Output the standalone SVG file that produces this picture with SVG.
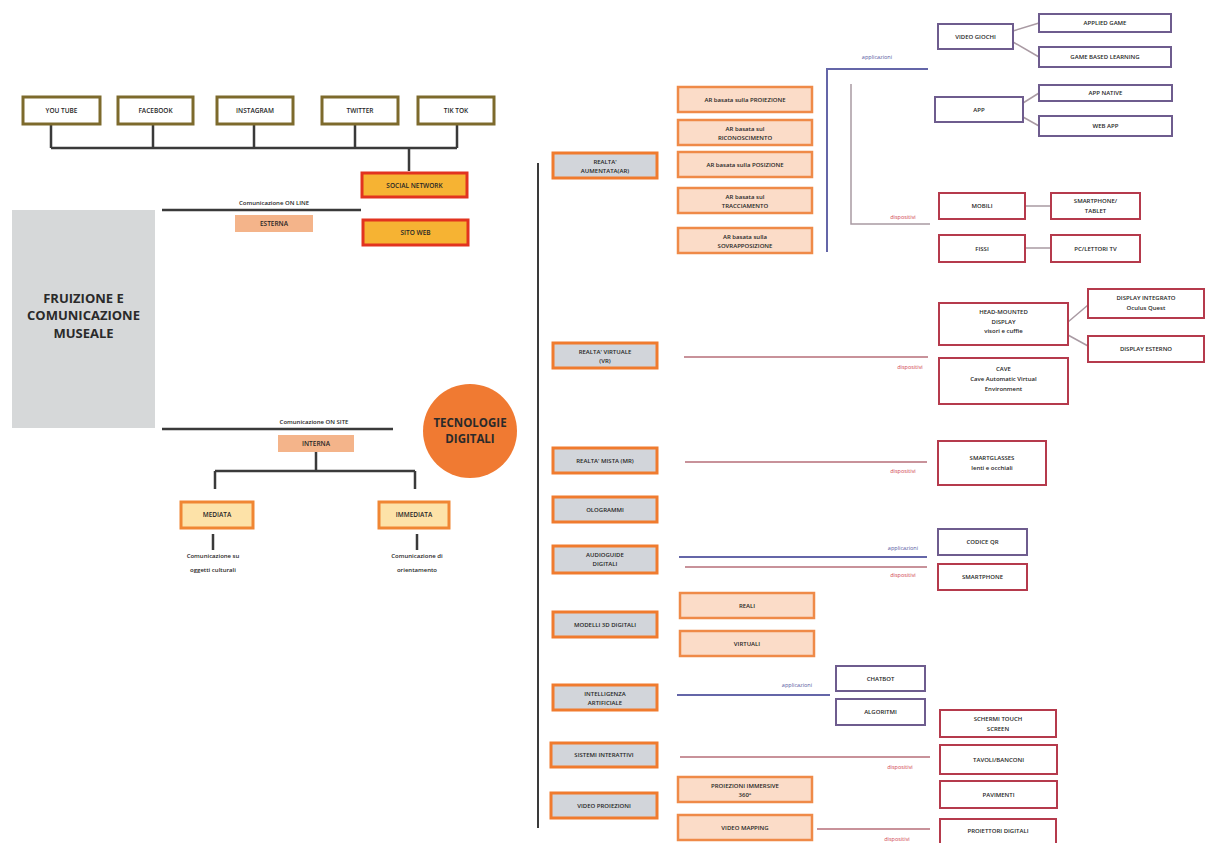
<svg xmlns="http://www.w3.org/2000/svg" width="1208" height="843" viewBox="0 0 1208 843">
<style>
text{font-family:"Open Sans","Liberation Sans",sans-serif;fill:#262626;text-anchor:middle}
.t{font-size:6.5px;font-weight:600}
.s{font-size:6px;font-weight:600}
.title{font-size:13px;font-weight:bold;fill:#2a2a2a}
.soc{fill:#fff;stroke:#7d6a2c;stroke-width:3}
.sn{fill:#f6b333;stroke:#e2331f;stroke-width:3}
.sal{fill:#f4b48a;stroke:none}
.med{fill:#fde2a8;stroke:#f08633;stroke-width:3}
.cat{fill:#d2d5da;stroke:#f07b2e;stroke-width:3}
.sub{fill:#fbdcc8;stroke:#ef8a48;stroke-width:2.5}
.pur{fill:#fff;stroke:#6e5c8e;stroke-width:2}
.red{fill:#fff;stroke:#b53a4c;stroke-width:2}
.blk{stroke:#3a3a3a;stroke-width:2.5;fill:none}
.bl{stroke:#6466a8;stroke-width:2;fill:none}
.rl{stroke:#c8929a;stroke-width:2;fill:none}
.gl{stroke:#a99aa3;stroke-width:1.5;fill:none}
.lb{font-size:5.5px;fill:#5558a0}
.lr{font-size:5.5px;fill:#d0404e}
</style>

<g id="connectors">
  <path class="blk" d="M51 124V148M153 124V148M254 124V148M355 124V148M457 124V148M51 148H457M409 148V171"/>
  <path class="blk" d="M162 210H361"/>
  <path class="blk" d="M162 429H393"/>
  <path class="blk" d="M316 452V471M215 471H415M215 471V489M415 471V489"/>
  <path class="blk" d="M213 534V550M417 534V550"/>
  <path d="M538 163V828" stroke="#3a3a3a" stroke-width="2" fill="none"/>
  <path class="bl" d="M928 69H827V252"/>
  <path class="gl" d="M851 84V224H930"/>
  <path class="gl" d="M1013 31L1039 23M1013 42L1039 57M1023 103L1039 93M1023 117L1039 126"/>
  <path class="gl" d="M1025 206H1051M1025 248H1051"/>
  <path class="rl" d="M684 357H928"/>
  <path class="gl" d="M1068 322L1088 305M1068 335L1088 346"/>
  <path class="rl" d="M685 462H927"/>
  <path class="bl" d="M679 557H927"/>
  <path class="rl" d="M685 567H927"/>
  <path class="bl" d="M677 695H830"/>
  <path class="rl" d="M680 757H930"/>
  <path class="rl" d="M817 829H930"/>
</g>

<g id="labels">
  <text class="lb" x="877" y="59">applicazioni</text>
  <text class="lr" x="903" y="219">dispositivi</text>
  <text class="lr" x="910" y="369">dispositivi</text>
  <text class="lr" x="903" y="473">dispositivi</text>
  <text class="lb" x="903" y="550">applicazioni</text>
  <text class="lr" x="903" y="577">dispositivi</text>
  <text class="lb" x="797" y="687">applicazioni</text>
  <text class="lr" x="900" y="769">dispositivi</text>
  <text class="lr" x="897" y="841">dispositivi</text>
  <text class="s" x="274" y="205">Comunicazione   ON LINE</text>
  <text class="s" x="314" y="424">Comunicazione   ON SITE</text>
</g>

<g id="youtube"><rect class="soc" x="23" y="97" width="77" height="27"/><text class="t" x="61.5" y="113">YOU TUBE</text></g>
<g id="facebook"><rect class="soc" x="118" y="97" width="75" height="27"/><text class="t" x="155.5" y="113">FACEBOOK</text></g>
<g id="instagram"><rect class="soc" x="217" y="97" width="76" height="27"/><text class="t" x="255" y="113">INSTAGRAM</text></g>
<g id="twitter"><rect class="soc" x="322" y="97" width="76" height="27"/><text class="t" x="360" y="113">TWITTER</text></g>
<g id="tiktok"><rect class="soc" x="418" y="97" width="76" height="27"/><text class="t" x="456" y="113">TIK TOK</text></g>

<g id="socialnetwork"><rect class="sn" x="362" y="173" width="105" height="24"/><text class="t" x="414.5" y="187.5">SOCIAL NETWORK</text></g>
<g id="sitoweb"><rect class="sn" x="363" y="220" width="105" height="25"/><text class="t" x="415.5" y="235">SITO WEB</text></g>
<g id="esterna"><rect class="sal" x="235" y="215" width="78" height="17"/><text class="t" x="274" y="226">ESTERNA</text></g>

<g id="fruizione">
  <rect x="12" y="210" width="143" height="218" fill="#d6d8d9"/>
  <text class="title" x="83.5" y="303">FRUIZIONE E</text>
  <text class="title" x="83.5" y="320">COMUNICAZIONE</text>
  <text class="title" x="83.5" y="338">MUSEALE</text>
</g>

<g id="interna"><rect class="sal" x="278" y="435" width="76" height="17"/><text class="t" x="316" y="446">INTERNA</text></g>
<g id="mediata"><rect class="med" x="181" y="502" width="72" height="26"/><text class="t" x="217" y="517">MEDIATA</text></g>
<g id="immediata"><rect class="med" x="379" y="502" width="70" height="26"/><text class="t" x="414" y="517">IMMEDIATA</text></g>
<g id="com-su"><text class="s" x="213" y="558">Comunicazione   su</text><text class="s" x="213" y="572">oggetti culturali</text></g>
<g id="com-di"><text class="s" x="417" y="558">Comunicazione   di</text><text class="s" x="417" y="572">orientamento</text></g>

<g id="tecnologie">
  <circle cx="470" cy="431" r="47" fill="#f07a32"/>
  <text x="470" y="427" style="font-size:11.5px;font-weight:bold;fill:#2a2a2a">TECNOLOGIE</text>
  <text x="470" y="443" style="font-size:11.5px;font-weight:bold;fill:#2a2a2a">DIGITALI</text>
</g>

<g id="ar"><rect class="cat" x="553" y="153" width="104" height="25"/><text class="s" x="605" y="163.5">REALTA'</text><text class="s" x="605" y="172.5">AUMENTATA(AR)</text></g>
<g id="vr"><rect class="cat" x="553" y="343" width="104" height="25"/><text class="s" x="605" y="353.5">REALTA' VIRTUALE</text><text class="s" x="605" y="362.5">(VR)</text></g>
<g id="mr"><rect class="cat" x="553" y="448" width="104" height="25"/><text class="s" x="605" y="462.5">REALTA' MISTA (MR)</text></g>
<g id="ologrammi"><rect class="cat" x="553" y="497" width="104" height="25"/><text class="s" x="605" y="511.5">OLOGRAMMI</text></g>
<g id="audioguide"><rect class="cat" x="553" y="546" width="104" height="27"/><text class="s" x="605" y="557">AUDIOGUIDE</text><text class="s" x="605" y="566">DIGITALI</text></g>
<g id="modelli"><rect class="cat" x="553" y="612" width="104" height="25"/><text class="s" x="605" y="626.5">MODELLI 3D DIGITALI</text></g>
<g id="ia"><rect class="cat" x="553" y="685" width="104" height="25"/><text class="s" x="605" y="695.5">INTELLIGENZA</text><text class="s" x="605" y="704.5">ARTIFICIALE</text></g>
<g id="sistemi"><rect class="cat" x="551" y="743" width="106" height="24"/><text class="s" x="604" y="757">SISTEMI INTERATTIVI</text></g>
<g id="videoproiezioni"><rect class="cat" x="551" y="793" width="106" height="25"/><text class="s" x="604" y="807.5">VIDEO PROIEZIONI</text></g>

<g id="ar1"><rect class="sub" x="678" y="87" width="134" height="25"/><text class="s" x="745" y="101.5">AR basata sulla PROIEZIONE</text></g>
<g id="ar2"><rect class="sub" x="678" y="120" width="134" height="25"/><text class="s" x="745" y="130.5">AR basata sul</text><text class="s" x="745" y="139.5">RICONOSCIMENTO</text></g>
<g id="ar3"><rect class="sub" x="678" y="152" width="134" height="25"/><text class="s" x="745" y="166.5">AR basata sulla POSIZIONE</text></g>
<g id="ar4"><rect class="sub" x="678" y="188" width="134" height="25"/><text class="s" x="745" y="198.5">AR basata sul</text><text class="s" x="745" y="207.5">TRACCIAMENTO</text></g>
<g id="ar5"><rect class="sub" x="678" y="228" width="134" height="25"/><text class="s" x="745" y="238.5">AR basata sulla</text><text class="s" x="745" y="247.5">SOVRAPPOSIZIONE</text></g>

<g id="videogiochi"><rect class="pur" x="938" y="24" width="75" height="25"/><text class="s" x="975.5" y="38.5">VIDEO GIOCHI</text></g>
<g id="appliedgame"><rect class="pur" x="1039" y="14" width="132" height="18"/><text class="s" x="1105" y="25">APPLIED GAME</text></g>
<g id="gamebased"><rect class="pur" x="1039" y="47" width="132" height="20"/><text class="s" x="1105" y="59">GAME BASED   LEARNING</text></g>
<g id="app"><rect class="pur" x="935" y="97" width="88" height="25"/><text class="s" x="979" y="111.5">APP</text></g>
<g id="appnative"><rect class="pur" x="1039" y="85" width="133" height="16"/><text class="s" x="1105.5" y="95">APP  NATIVE</text></g>
<g id="webapp"><rect class="pur" x="1039" y="116" width="133" height="20"/><text class="s" x="1105.5" y="128">WEB  APP</text></g>

<g id="mobili"><rect class="red" x="939" y="193" width="86" height="26"/><text class="s" x="982" y="208">MOBILI</text></g>
<g id="smartphonetablet"><rect class="red" x="1051" y="193" width="89" height="26"/><text class="s" x="1095.5" y="203">SMARTPHONE/</text><text class="s" x="1095.5" y="213">TABLET</text></g>
<g id="fissi"><rect class="red" x="939" y="235" width="86" height="27"/><text class="s" x="982" y="250.5">FISSI</text></g>
<g id="pclettori"><rect class="red" x="1051" y="235" width="89" height="27"/><text class="s" x="1095.5" y="250.5">PC/LETTORI  TV</text></g>

<g id="hmd"><rect class="red" x="939" y="303" width="129" height="42"/><text class="s" x="1003.5" y="314">HEAD-MOUNTED</text><text class="s" x="1003.5" y="323.5">DISPLAY</text><text class="s" x="1003.5" y="333">visori  e  cuffie</text></g>
<g id="displayintegrato"><rect class="red" x="1088" y="289" width="116" height="29"/><text class="s" x="1146" y="300">DISPLAY INTEGRATO</text><text class="s" x="1146" y="310">Oculus  Quest</text></g>
<g id="displayesterno"><rect class="red" x="1088" y="336" width="116" height="26"/><text class="s" x="1146" y="351">DISPLAY ESTERNO</text></g>
<g id="cave"><rect class="red" x="939" y="358" width="129" height="46"/><text class="s" x="1003.5" y="371">CAVE</text><text class="s" x="1003.5" y="381">Cave Automatic   Virtual</text><text class="s" x="1003.5" y="391">Environment</text></g>

<g id="smartglasses"><rect class="red" x="938" y="441" width="108" height="44"/><text class="s" x="992" y="460">SMARTGLASSES</text><text class="s" x="992" y="470">lenti  e  occhiali</text></g>
<g id="codiceqr"><rect class="pur" x="938" y="529" width="89" height="26"/><text class="s" x="982.5" y="544">CODICE QR</text></g>
<g id="smartphone"><rect class="red" x="938" y="564" width="89" height="26"/><text class="s" x="982.5" y="579">SMARTPHONE</text></g>

<g id="reali"><rect class="sub" x="680" y="593" width="134" height="25"/><text class="s" x="747" y="607.5">REALI</text></g>
<g id="virtuali"><rect class="sub" x="680" y="631" width="134" height="25"/><text class="s" x="747" y="645.5">VIRTUALI</text></g>

<g id="chatbot"><rect class="pur" x="836" y="666" width="89" height="25"/><text class="s" x="880.5" y="680.5">CHATBOT</text></g>
<g id="algoritmi"><rect class="pur" x="836" y="699" width="89" height="26"/><text class="s" x="880.5" y="714">ALGORITMI</text></g>

<g id="schermi"><rect class="red" x="940" y="710" width="116" height="27"/><text class="s" x="998" y="720.5">SCHERMI  TOUCH</text><text class="s" x="998" y="730.5">SCREEN</text></g>
<g id="tavoli"><rect class="red" x="940" y="745" width="117" height="29"/><text class="s" x="998.5" y="761.5">TAVOLI/BANCONI</text></g>
<g id="pavimenti"><rect class="red" x="940" y="781" width="117" height="27"/><text class="s" x="998.5" y="796.5">PAVIMENTI</text></g>
<g id="proiettori"><rect class="red" x="940" y="819" width="116" height="26"/><text class="s" x="998" y="833">PROIETTORI  DIGITALI</text></g>

<g id="immersive"><rect class="sub" x="678" y="777" width="134" height="25"/><text class="s" x="745" y="787.5">PROIEZIONI IMMERSIVE</text><text class="s" x="745" y="797">360°</text></g>
<g id="videomapping"><rect class="sub" x="678" y="815" width="134" height="25"/><text class="s" x="745" y="829.5">VIDEO MAPPING</text></g>
</svg>
